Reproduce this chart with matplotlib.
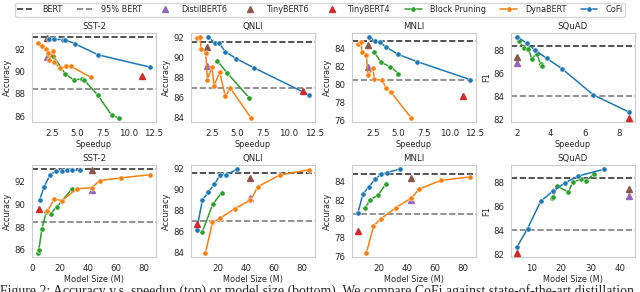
import numpy as np
import seaborn as sns
from matplotlib import pyplot as plt
from matplotlib.lines import Line2D
from matplotlib.ticker import MultipleLocator

sns.set_style("whitegrid")
plt.rcParams['font.family'] = ['DejaVu Sans']

tasks = ["SST-2", "QNLI", "MNLI", "SQuAD"]
ylabels = ["Accuracy", "Accuracy", "Accuracy", "F1"]
bert = [93.1, 91.6, 84.8, 88.4]
bert95 = [88.45, 87.0, 80.55, 84.0]

# top row: speedup
cofi_speed = [[2.2, 2.75, 3.55, 3.8, 4.75, 7.05, 12.15],
              [2.15, 2.75, 3.15, 3.8, 4.85, 6.55, 12.0],
              [2.15, 2.7, 3.15, 3.8, 4.95, 6.8, 12.05],
              [2.05, 2.6, 3.1, 3.75, 4.65, 6.5, 8.6]]
cofi_speed_acc = [[92.92, 92.92, 92.86, 92.86, 92.5, 91.5, 90.4],
                  [92.05, 91.5, 91.5, 90.6, 89.9, 89.0, 86.25],
                  [85.25, 84.85, 84.65, 84.15, 83.35, 82.55, 80.55],
                  [89.15, 88.6, 88.0, 87.3, 86.4, 84.1, 82.6]]
dyna_speed = [[1.1, 1.5, 1.9, 2.1, 2.17, 2.65, 2.75, 3.3, 3.9, 4.35, 6.3],
              [1.0, 1.35, 1.42, 1.9, 2.05, 2.5, 2.7, 3.25, 3.8, 4.3, 6.3],
              [1.0, 1.35, 1.42, 1.85, 2.0, 2.5, 2.65, 3.4, 3.8, 4.25, 6.25],
              []]
dyna_speed_acc = [[92.54, 92.32, 92.03, 91.67, 91.07, 91.85, 90.84, 90.3, 90.48, 90.48, 89.5],
                  [92.0, 92.06, 90.89, 90.44, 87.8, 89.1, 87.18, 88.55, 86.12, 86.93, 83.95],
                  [84.48, 84.73, 83.62, 83.26, 81.05, 81.79, 80.6, 80.5, 79.58, 79.2, 76.33],
                  []]
block_speed = [[2.65, 3.8, 4.65, 5.4, 5.65, 7.0, 8.35, 9.05],
               [3.0, 3.95, 6.1],
               [2.6, 3.3, 4.2, 5.0],
               [2.14, 2.44, 2.69, 2.88, 3.18, 3.41, 3.51]]
block_speed_acc = [[91.4, 89.8, 89.25, 89.35, 89.25, 87.9, 86.1, 85.85],
                   [89.7, 88.5, 86.0],
                   [83.65, 82.45, 82.0, 81.2],
                   [88.78, 88.21, 88.12, 87.26, 87.71, 86.76, 86.67]]

# bottom row: model size (M)
cofi_size = [[5.45, 8.65, 12.9, 17.1, 21.2, 25.3, 28.5, 34.5],
             [4.7, 8.8, 13.1, 17.3, 21.4, 25.3, 33.8],
             [4.8, 8.4, 12.8, 17.4, 21.3, 25.3, 34.6],
             [5.1, 8.6, 13.0, 17.1, 21.3, 25.8, 34.5]]
cofi_size_acc = [[90.4, 91.55, 92.6, 92.93, 92.9, 93.0, 93.0, 93.0],
                 [86.2, 89.0, 89.8, 90.5, 91.4, 91.4, 91.95],
                 [80.58, 82.62, 83.44, 84.26, 84.74, 84.93, 85.3],
                 [82.63, 84.14, 86.43, 87.29, 88.0, 88.57, 89.14]]
dyna_size = [[11, 16, 21.5, 32, 43, 48.5, 64, 85],
             [11, 16, 21.5, 32, 43, 48.5, 64, 85],
             [11, 16, 21.5, 32, 43, 48.5, 64, 85],
             []]
dyna_size_acc = [[89.4, 90.48, 90.33, 91.38, 91.47, 92.1, 92.34, 92.62],
                 [84.0, 86.9, 87.3, 88.2, 89.0, 90.3, 91.4, 91.9],
                 [76.38, 79.24, 80.02, 81.21, 82.22, 83.18, 84.11, 84.48],
                 []]
block_size = [[4.0, 4.8, 7.0, 10.2, 13.4, 17.7, 28.8],
              [8.8, 16.1, 22.5],
              [10.2, 13.6, 19.2, 24.8],
              [16.8, 17.3, 18.5, 22.4, 23.9, 26.6, 28.4, 30.9]]
block_size_acc = [[85.75, 85.96, 87.8, 89.35, 89.2, 89.77, 91.38],
                  [86.0, 88.6, 89.7],
                  [81.2, 82.03, 82.51, 83.74],
                  [86.71, 86.8, 87.71, 87.23, 88.06, 88.29, 88.14, 88.71]]

# single models
distil_speed = [2.0, 2.0, 2.0, 2.05]
tiny6_speed = [2.0, 2.0, 2.0, 2.0]
tiny4_speed = [11.35, 11.35, 11.35, 8.6]
distil_size = [43, 43, 43, 43]
tiny6_size = [43, 43, 43, 43]
tiny4_size = [4.7, 4.7, 4.7, 4.9]
distil_acc = [91.3, 89.2, 82.0, 86.85]
tiny6_acc = [93.0, 91.1, 84.4, 87.45]
tiny4_acc = [89.6, 86.7, 78.7, 82.1]

c_blue, c_orange, c_green = '#1f77b4', '#ff7f0e', '#2ca02c'
c_red, c_purple, c_brown = '#d62728', '#9467bd', '#8c564b'
fs = 5.9

W, H = 640, 292
fig = plt.figure(figsize=(W / 100, H / 100), dpi=100)
lefts = [32, 191, 352, 511]
aw = 124


def px_axes(x0, y0, w, h):
    return fig.add_axes([x0 / W, 1 - (y0 + h) / H, w / W, h / H])


def draw(ax, i, xs_list, ys_list, xlab, xstep):
    cofi_x, dyna_x, block_x, sx = xs_list
    cofi_y, dyna_y, block_y = ys_list
    ax.axhline(bert[i], color='0.2', ls='--', lw=1.2, zorder=1)
    ax.axhline(bert95[i], color='0.5', ls='--', lw=1.2, zorder=1)
    for xs, ys, c in [(block_x[i], block_y[i], c_green),
                      (dyna_x[i], dyna_y[i], c_orange),
                      (cofi_x[i], cofi_y[i], c_blue)]:
        if len(xs):
            order = np.argsort(xs, kind='stable')
            ax.plot(np.array(xs)[order], np.array(ys)[order], color=c, lw=1.1,
                    marker='o', ms=3.8, mec='white', mew=0.4, zorder=3)
    dx, tx6, tx4 = sx
    ax.plot(dx[i], distil_acc[i], '^', color=c_purple, ms=4.5, zorder=2)
    ax.plot(tx6[i], tiny6_acc[i], '^', color=c_brown, ms=4.5, zorder=2)
    ax.plot(tx4[i], tiny4_acc[i], '^', color=c_red, ms=4.5, zorder=4)
    ax.grid(False)
    for s in ax.spines.values():
        s.set_color('0.8')
    ax.xaxis.set_major_locator(MultipleLocator(xstep))
    ax.yaxis.set_major_locator(MultipleLocator(2))
    ax.tick_params(labelsize=fs + 0.3, pad=1.5, colors='0.15')
    ax.set_title(tasks[i], fontsize=fs + 0.3, pad=3, color='0.15')
    ax.set_xlabel(xlab, fontsize=fs, labelpad=1.5, color='0.15')
    ax.set_ylabel(ylabels[i], fontsize=fs, labelpad=1.5, color='0.15')


for i in range(4):
    ax = px_axes(lefts[i], 33, aw, 89)
    draw(ax, i, (cofi_speed, dyna_speed, block_speed, (distil_speed, tiny6_speed, tiny4_speed)),
         (cofi_speed_acc, dyna_speed_acc, block_speed_acc), 'Speedup', 2 if i == 3 else 2.5)
    ax = px_axes(lefts[i], 165, aw, 92)
    draw(ax, i, (cofi_size, dyna_size, block_size, (distil_size, tiny6_size, tiny4_size)),
         (cofi_size_acc, dyna_size_acc, block_size_acc), 'Model Size (M)', 10 if i == 3 else 20)

handles = [Line2D([], [], color='0.2', ls='--', lw=1.2),
           Line2D([], [], color='0.5', ls='--', lw=1.2),
           Line2D([], [], color=c_purple, marker='^', ls='', ms=4.5),
           Line2D([], [], color=c_brown, marker='^', ls='', ms=4.5),
           Line2D([], [], color=c_red, marker='^', ls='', ms=4.5),
           Line2D([], [], color=c_green, marker='o', ms=3.8, mec='white', mew=0.4, lw=1.1),
           Line2D([], [], color=c_orange, marker='o', ms=3.8, mec='white', mew=0.4, lw=1.1),
           Line2D([], [], color=c_blue, marker='o', ms=3.8, mec='white', mew=0.4, lw=1.1)]
names = ['BERT', '95% BERT', 'DistilBERT6', 'TinyBERT6', 'TinyBERT4',
         'Block Pruning', 'DynaBERT', 'CoFi']


def make_legend(cs):
    lg = fig.legend(handles, names, loc='upper center', bbox_to_anchor=(0.5, 0.996),
                    ncol=8, fontsize=fs, frameon=True, columnspacing=cs,
                    handlelength=2.0, handletextpad=1.0, borderpad=0.3,
                    borderaxespad=0.2)
    lg.get_frame().set_edgecolor('0.8')
    for t in lg.get_texts():
        t.set_color('0.15')
    return lg


# widen the column gaps until the legend box spans about 610 px
cs = 1.0
leg = make_legend(cs)
fig.canvas.draw()
wpx = leg.get_window_extent().width
leg.remove()
em = fs * 100 / 72
cs = cs + (610 - wpx) / 7 / em
leg = make_legend(cs)

fig.text(0.0, -0.008, "Figure 2: Accuracy v.s. speedup (top) or model size (bottom). "
         "We compare CoFi against state-of-the-art distillation",
         family=['Liberation Serif'], fontsize=9.9, va='baseline', ha='left')

fig.savefig('out.png', dpi=100)
